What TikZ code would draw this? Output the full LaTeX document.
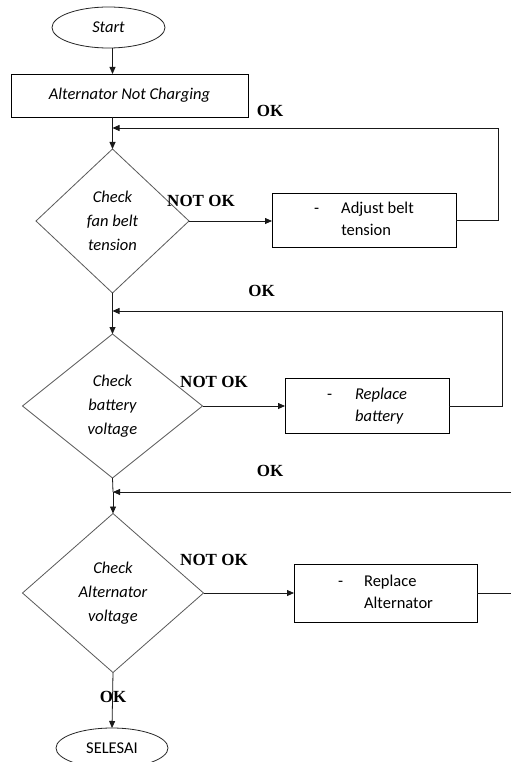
\documentclass[tikz,border=0pt]{standalone}
\usepackage{fontspec}
\setmainfont{Carlito}
\newfontfamily\lblfont{Liberation Serif}
\usetikzlibrary{shapes.geometric,arrows.meta}
\begin{document}
\begin{tikzpicture}[x=1pt,y=-1pt,
  every node/.style={inner sep=0pt,outer sep=0pt},
  txt/.style={font=\fontsize{16.5}{24}\selectfont},
  term/.style={ellipse,draw=black!85,line width=0.8pt,txt},
  procbox/.style={rectangle,draw=black,line width=0.9pt,txt},
  decis/.style={diamond,draw=black!65,line width=0.8pt,txt,align=center},
  lbl/.style={font=\lblfont\bfseries\fontsize{17}{20}\selectfont},
  arr/.style={draw=black!90,line width=0.8pt,-{Triangle[length=7pt,width=6pt]}},
  ln/.style={draw=black!90,line width=0.8pt}
]
\useasboundingbox (0,0) rectangle (511,762);
\fill[white] (0,0) rectangle (511,762);

% nodes
\node[term,minimum width=113pt,minimum height=41pt] (start) at (108.5,27.5) {\itshape Start};
\node[procbox,minimum width=237pt,minimum height=43pt] (anc) at (129.5,95.5) {\itshape Alternator Not Charging};
\node[decis,minimum width=153pt,minimum height=144pt] (d1) at (112.5,221) {\itshape Check\\\itshape fan belt\\\itshape tension};
\node[procbox,minimum width=184pt,minimum height=54pt] (b1) at (364,220.5)
  {\fontsize{16.5}{22}\selectfont\begin{tabular}{@{}l@{\hspace{22pt}}l@{}}-&Adjust belt\\&tension\end{tabular}};
\node[decis,minimum width=180pt,minimum height=144pt] (d2) at (112.5,406) {\itshape Check\\\itshape battery\\\itshape voltage};
\node[procbox,minimum width=164pt,minimum height=55pt] (b2) at (367,406)
  {\fontsize{16.5}{22}\selectfont\begin{tabular}{@{}l@{\hspace{23pt}}l@{}}-&\itshape Replace\\&\itshape battery\end{tabular}};
\node[decis,minimum width=181pt,minimum height=159pt] (d3) at (113,593) {\itshape Check\\\itshape Alternator\\\itshape voltage};
\node[procbox,minimum width=183pt,minimum height=58pt] (b3) at (385.5,593)
  {\fontsize{16.5}{22}\selectfont\begin{tabular}{@{}l@{\hspace{21pt}}l@{}}-&Replace\\&Alternator\end{tabular}};
\node[term,minimum width=112pt,minimum height=40pt] (fin) at (112,748) {SELESAI};

% junction coordinates
\coordinate (j1) at (112.5,128);
\coordinate (j2) at (112.5,311);
\coordinate (j3) at (113,492);
\coordinate (r3) at (511,492);
\coordinate (r4) at (511,593);

% connectors
\draw[arr] (start.south -| j1) -- (anc.north -| j1);
\draw[ln] (anc.south -| j1) -- (j1);
\draw[arr] (j1) -- (d1.north);
\draw[arr] (d1.east) -- (d1.east -| b1.west);
\draw[arr] (b1.east) -- ++(42,0) |- (j1);

\draw[ln] (d1.south) -- (j2);
\draw[arr] (j2) -- (d2.north);
\draw[arr] (d2.east) -- (d2.east -| b2.west);
\draw[arr] (b2.east) -- ++(53,0) |- (j2);

\draw[ln] (d2.south) -- (j3);
\draw[arr] (j3) -- (d3.north);
\draw[arr] (r3) -- (j3);
\draw[arr] (d3.east) -- (d3.east -| b3.west);
\draw[ln] (b3.east) -- (r4);

\draw[arr] (d3.south) -- (fin.north);

% labels
\node[lbl] (l1) at (201,200.5) {NOT OK};
\node[lbl] (l2) at (214,382) {NOT OK};
\node[lbl] (l3) at (214,560) {NOT OK};
\node[lbl] (o1) at (270,111) {OK};
\node[lbl] (o2) at (261.5,290.5) {OK};
\node[lbl] (o3) at (270,471) {OK};
\node[lbl] (o4) at (113,696.5) {OK};
\end{tikzpicture}
\end{document}
